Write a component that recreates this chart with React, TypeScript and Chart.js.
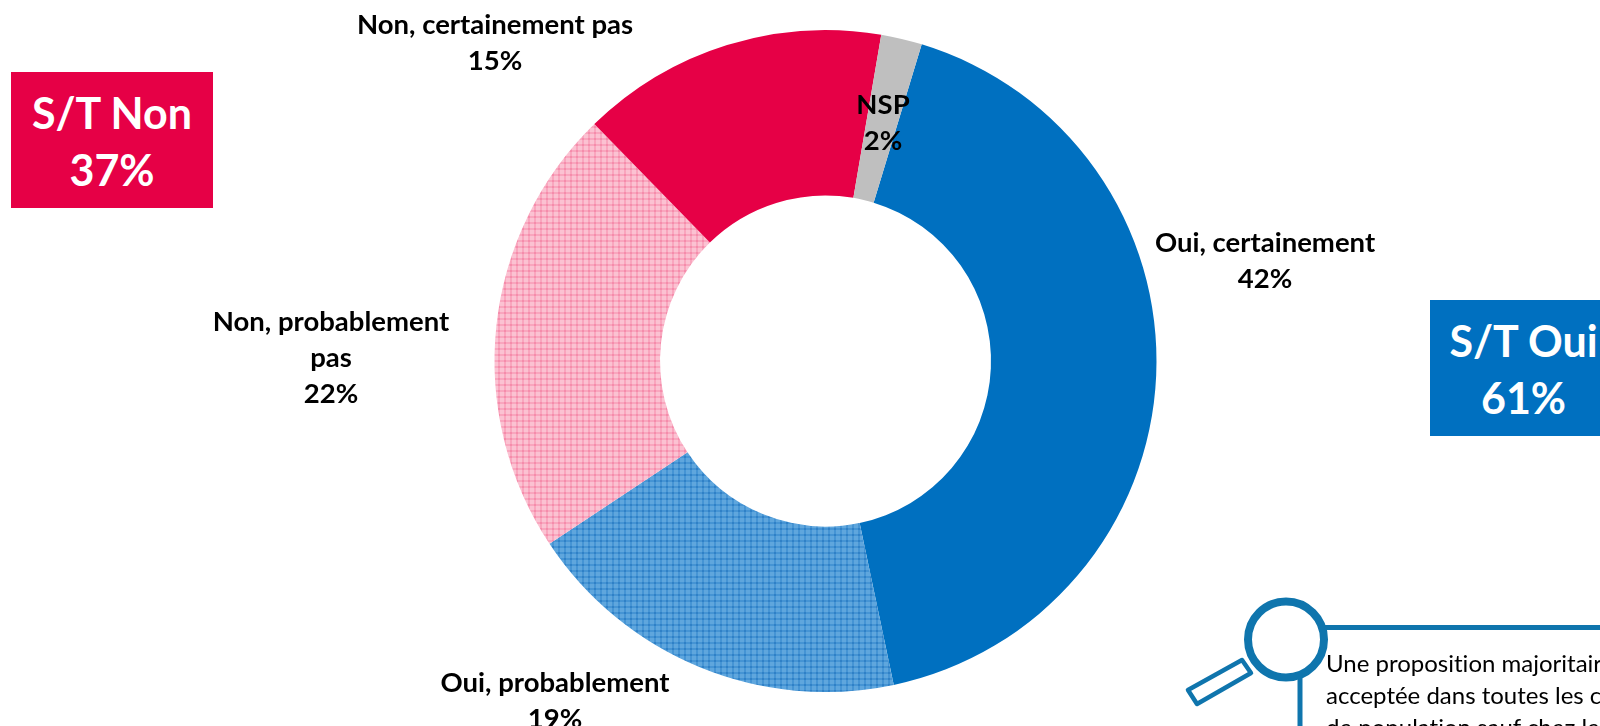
import React, { useEffect, useRef } from "react";
import { Chart, registerables } from "chart.js";

Chart.register(...registerables);

const categories = ["Oui, certainement", "Oui, probablement", "Non, probablement pas", "Non, certainement pas", "NSP"];
const values = [42, 19, 22, 15, 2];
const percentLabels = ["42%", "19%", "22%", "15%", "2%"];
const labelLines = [["Oui, certainement"], ["Oui, probablement"], ["Non, probablement", "pas"], ["Non, certainement pas"], ["NSP"]];
const labelCenters = [[1265, 243], [555, 683], [331, 322], [495, 25], [883, 105]];
const labelSpacing = 36;
const noteLines = ["Une proposition majoritairement", "acceptée dans toutes les catégories", "de population sauf chez les"];

function plaid(base: string, line: string, dark: string) {
  const c = document.createElement("canvas");
  c.width = 6;
  c.height = 6;
  const g = c.getContext("2d")!;
  g.fillStyle = base;
  g.fillRect(0, 0, 6, 6);
  g.fillStyle = line;
  g.fillRect(0, 0, 6, 2);
  g.fillRect(0, 0, 2, 6);
  g.fillStyle = dark;
  g.fillRect(0, 0, 2, 2);
  return g.createPattern(c, "repeat")!;
}

const labelPlugin = {
  id: "sliceLabels",
  afterDatasetsDraw(chart: any) {
    const ctx = chart.ctx;
    ctx.save();
    ctx.font = 'bold 27.5px Lato, "Open Sans", sans-serif';
    ctx.fillStyle = "#000";
    ctx.textAlign = "center";
    ctx.textBaseline = "middle";
    categories.forEach((_, i) => {
      const [x, y] = labelCenters[i];
      const lines = [...labelLines[i], percentLabels[i]];
      lines.forEach((t, k) => ctx.fillText(t, x, y + k * labelSpacing));
    });
    ctx.restore();
  },
};

const boxStyle: React.CSSProperties = {
  position: "absolute",
  color: "#fff",
  fontFamily: 'Lato, "Open Sans", sans-serif',
  fontWeight: 700,
  fontSize: 43,
  lineHeight: "57px",
  textAlign: "center",
  whiteSpace: "nowrap",
  boxSizing: "border-box",
  paddingTop: 12,
};

export default function App() {
  const ref = useRef<HTMLCanvasElement>(null);
  useEffect(() => {
    document.body.style.margin = "0";
    document.body.style.overflow = "hidden";
    const chart = new Chart(ref.current!, {
      type: "doughnut",
      data: {
        labels: categories,
        datasets: [
          {
            data: values,
            backgroundColor: [
              "#0070C0",
              plaid("#5FA6DD", "#4594D4", "#2F80C6"),
              plaid("#FBC2D2", "#F9A6BE", "#F58CAB"),
              "#E60046",
              "#BFBFBF",
            ],
            borderWidth: 0,
          },
        ],
      },
      options: {
        animation: false,
        responsive: false,
        rotation: 16.9,
        cutout: "50%",
        layout: { padding: { top: 30, bottom: 34, left: 51, right: 0 } },
        plugins: { legend: { display: false }, tooltip: { enabled: false } },
      },
      plugins: [labelPlugin],
    });
    return () => chart.destroy();
  }, []);

  return (
    <div style={{ position: "relative", width: 1600, height: 726, overflow: "hidden", background: "#fff" }}>
      <canvas ref={ref} width={1600} height={726} style={{ display: "block", width: 1600, height: 726 }} />
      <div style={{ ...boxStyle, left: 11, top: 72, width: 202, height: 136, background: "#E60046" }}>
        S/T Non
        <br />
        37%
      </div>
      <div style={{ ...boxStyle, left: 1430, top: 300, width: 187, height: 136, background: "#0070C0" }}>
        S/T Oui
        <br />
        61%
      </div>
      <svg width={1600} height={726} style={{ position: "absolute", left: 0, top: 0 }}>
        <g fill="none" stroke="#0F75AD">
          <line x1={1325} y1={627.5} x2={1600} y2={627.5} strokeWidth={5} />
          <line x1={1300} y1={678} x2={1300} y2={726} strokeWidth={5} />
          <circle cx={1286} cy={639.5} r={38} strokeWidth={8} />
          <polygon points="1188,690 1242,660 1251,673 1197,704" strokeWidth={4.5} strokeLinejoin="round" />
        </g>
      </svg>
      <div
        style={{
          position: "absolute",
          left: 1326,
          top: 647,
          fontFamily: 'Lato, "Open Sans", sans-serif',
          fontSize: 24,
          lineHeight: "32px",
          color: "#000",
          whiteSpace: "nowrap",
          fontVariantLigatures: "none",
        }}
      >
        {noteLines.map((t) => (
          <div key={t}>{t}</div>
        ))}
      </div>
    </div>
  );
}
